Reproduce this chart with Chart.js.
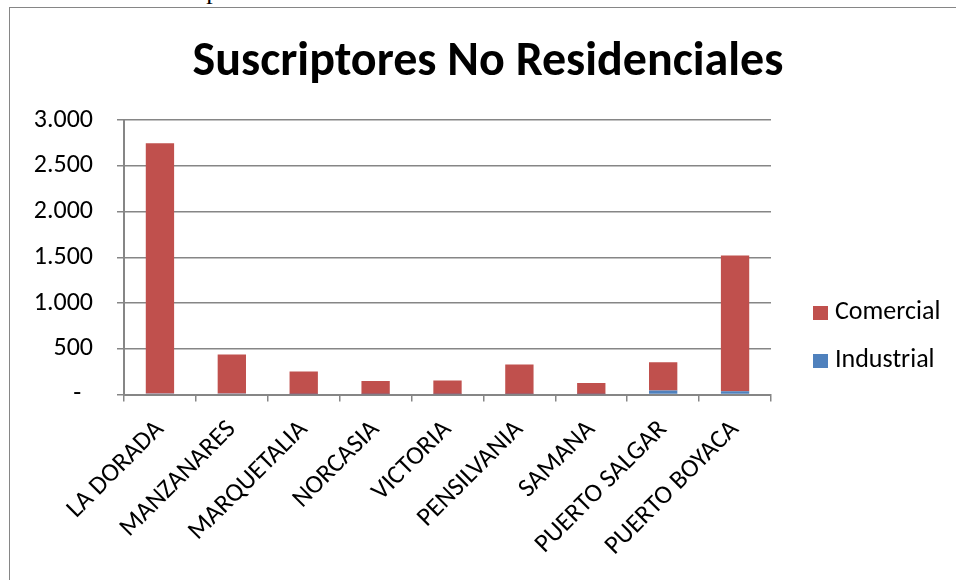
<!DOCTYPE html>
<html>
<head>
<meta charset="utf-8">
<script src="https://cdn.jsdelivr.net/npm/chart.js@4/dist/chart.umd.min.js"></script>
<style>
  html, body { margin: 0; padding: 0; background: #fff; width: 956px; height: 580px; overflow: hidden; }
  #caption { position: absolute; left: 15px; top: -19px; font-family: "Liberation Serif", serif; font-size: 26px; letter-spacing: 1.4px; line-height: 20px; color: #000; white-space: nowrap; }
  #frame { position: absolute; left: 9px; top: 7px; width: 1000px; height: 600px; border: 1px solid #868686; box-sizing: border-box; background: #fff; }
  #wrap { position: absolute; left: 10px; top: 8px; width: 956px; height: 572px; }
  #legend { position: absolute; left: 0; top: 0; font-family: Carlito, Lato, sans-serif; font-size: 26px; color: #000; }
  .item { position: absolute; white-space: nowrap; line-height: 26px; }
  .box { position: absolute; width: 15px; height: 14px; }
</style>
</head>
<body>
<div id="caption">Gráfica 4.Suscriptores No Residenciales</div>
<div id="frame"></div>
<div id="wrap"><canvas id="c" width="956" height="572"></canvas></div>
<div id="legend"></div>
<script>
const categories = ['LA DORADA', 'MANZANARES', 'MARQUETALIA', 'NORCASIA', 'VICTORIA', 'PENSILVANIA', 'SAMANA', 'PUERTO SALGAR', 'PUERTO BOYACA'];
const industrial = [12, 10, 3, 2, 3, 5, 2, 45, 35];
const comercial = [2733, 427, 249, 145, 151, 323, 123, 308, 1485];
const yTickValues = [0, 500, 1000, 1500, 2000, 2500, 3000];
const yTickLabels = ['-', '500', '1.000', '1.500', '2.000', '2.500', '3.000'];
const titleText = 'Suscriptores No Residenciales';

const FONT = 'Carlito, Lato, sans-serif';
const GRID = '#868686';

const chart = new Chart(document.getElementById('c'), {
  type: 'bar',
  data: {
    labels: categories,
    datasets: [
      { label: 'Industrial', data: industrial, backgroundColor: '#4F81BD', barPercentage: 0.394, categoryPercentage: 1 },
      { label: 'Comercial', data: comercial, backgroundColor: '#C0504D', barPercentage: 0.394, categoryPercentage: 1 }
    ]
  },
  options: {
    responsive: false,
    animation: false,
    devicePixelRatio: 1,
    layout: { padding: 0 },
    plugins: {
      legend: { display: false },
      tooltip: { enabled: false },
      title: {
        display: true,
        text: titleText,
        color: '#000',
        font: { family: FONT, size: 48, weight: 'bold', lineHeight: 1.2 },
        padding: { top: 25.8, bottom: 28.6 }
      }
    },
    scales: {
      x: {
        stacked: true,
        grid: { display: true, drawOnChartArea: false, drawTicks: true, tickLength: 7, color: GRID, lineWidth: 1.5, offset: true },
        border: { display: true, color: GRID, width: 2 },
        ticks: { color: '#000', font: { family: FONT, size: 26 }, minRotation: 45, maxRotation: 45, autoSkip: false, padding: 13 },
        afterFit: (s) => { s.height = 185.5; s.paddingLeft = 0; s.paddingRight = 0; }
      },
      y: {
        stacked: true,
        min: 0,
        max: 3000,
        afterBuildTicks: (s) => { s.ticks = yTickValues.map(v => ({ value: v })); },
        grid: { color: GRID, lineWidth: 1.5, tickLength: 7, drawTicks: true },
        border: { display: true, color: GRID, width: 2 },
        ticks: {
          color: '#000',
          font: { family: FONT, size: 26 },
          padding: 24,
          callback: (v) => {
            const i = yTickValues.indexOf(v);
            const t = i >= 0 ? yTickLabels[i] : '';
            return v === 0 ? t + '  ' : t;
          }
        },
        afterFit: (s) => { s.width = 114; }
      },
      legendSpace: {
        type: 'linear',
        position: 'right',
        display: true,
        grid: { display: false },
        border: { display: false },
        ticks: { display: false },
        afterFit: (s) => { s.width = 195; }
      }
    }
  }
});

// legend built from the chart's datasets (Comercial listed first, as in the reference)
const legend = document.getElementById('legend');
const ds = chart.data.datasets.slice().reverse();
const rowTops = [306, 354];
ds.forEach((d, i) => {
  const b = document.createElement('div');
  b.className = 'box';
  b.style.left = '813px';
  b.style.top = rowTops[i] + 'px';
  b.style.background = d.backgroundColor;
  legend.appendChild(b);
  const t = document.createElement('div');
  t.className = 'item';
  t.style.left = '835px';
  t.style.top = (rowTops[i] - 9) + 'px';
  t.textContent = d.label;
  legend.appendChild(t);
});
</script>
</body>
</html>
